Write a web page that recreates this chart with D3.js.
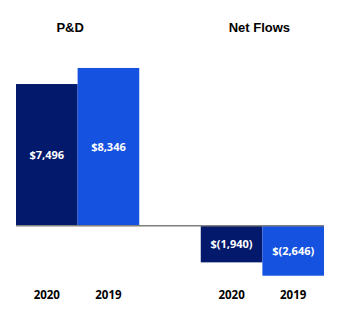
<!DOCTYPE html>
<html>
<head>
<meta charset="utf-8">
<script src="https://cdn.jsdelivr.net/npm/d3@7"></script>
<style>
  html, body { margin: 0; padding: 0; background: #fff; }
  svg { display: block; }
</style>
</head>
<body>
<svg id="chart" width="340" height="328"></svg>
<script>
// Panels and the years compared inside each
const groups = ["P&D", "Net Flows"];
const years = ["2020", "2019"];
// Values in $ millions, one array per panel (order follows `years`)
const pdValues = [7496, 8346];
const netFlowValues = [-1940, -2646];
const valueLabels = [["$7,496", "$8,346"], ["$(1,940)", "$(2,646)"]];

const seriesByGroup = [pdValues, netFlowValues];
const colors = { "2020": "#03196c", "2019": "#1552e0" };

const svg = d3.select("#chart");

const x = d3.scaleBand().domain(groups).range([16, 324]).paddingInner(0.333).paddingOuter(0);
const xi = d3.scaleBand().domain(years).range([0, x.bandwidth()]).padding(0);
const y = d3.scaleLinear().domain([-3000, 9000]).range([282.4, 55.6]);

const rows = [];
groups.forEach((g, gi) => {
  years.forEach((yr, yi) => {
    rows.push({ group: g, year: yr, value: seriesByGroup[gi][yi], label: valueLabels[gi][yi] });
  });
});

// Bars
svg.append("g").selectAll("rect")
  .data(rows)
  .join("rect")
  .attr("x", d => x(d.group) + xi(d.year))
  .attr("width", xi.bandwidth())
  .attr("y", d => y(Math.max(0, d.value)))
  .attr("height", d => Math.abs(y(d.value) - y(0)))
  .attr("fill", d => colors[d.year]);

// Zero line
svg.append("line")
  .attr("x1", x.range()[0]).attr("x2", x.range()[1])
  .attr("y1", y(0)).attr("y2", y(0))
  .attr("stroke", "#7f7f7f").attr("stroke-width", 1.5);

// Value labels centred in each bar
svg.append("g").selectAll("text")
  .data(rows)
  .join("text")
  .attr("x", d => x(d.group) + xi(d.year) + xi.bandwidth() / 2)
  .attr("y", d => (y(d.value) + y(0)) / 2)
  .attr("dy", "0.36em")
  .attr("text-anchor", "middle")
  .attr("fill", "#fff")
  .style("font-family", "'Open Sans', sans-serif")
  .style("font-weight", 700)
  .style("font-size", "11px")
  .text(d => d.label);

// Year labels under the bars
svg.append("g").selectAll("text")
  .data(rows)
  .join("text")
  .attr("x", d => x(d.group) + xi(d.year) + xi.bandwidth() / 2)
  .attr("y", 298.5)
  .attr("text-anchor", "middle")
  .attr("fill", "#000")
  .style("font-family", "'Open Sans', sans-serif")
  .style("font-weight", 700)
  .style("font-size", "11.5px")
  .text(d => d.year);

// Panel titles
const titleShift = { "P&D": -7.5, "Net Flows": -3 };
svg.append("g").selectAll("text")
  .data(groups)
  .join("text")
  .attr("x", g => x(g) + x.bandwidth() / 2 + titleShift[g])
  .attr("y", 32.3)
  .attr("text-anchor", "middle")
  .attr("fill", "#000")
  .style("font-family", "'Liberation Sans', Arial, sans-serif")
  .style("font-weight", 700)
  .style("font-size", "13px")
  .text(g => g);
</script>
</body>
</html>
